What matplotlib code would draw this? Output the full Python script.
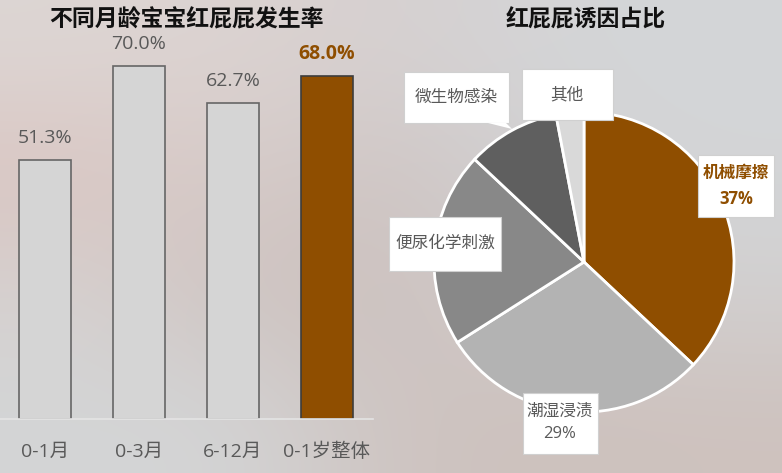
import numpy as np
import matplotlib.pyplot as plt
from matplotlib.patches import Rectangle, Polygon

plt.rcParams['font.family'] = ['Open Sans', 'Noto Sans CJK SC', 'DejaVu Sans']

# 数据
age_groups = ['0-1月', '0-3月', '6-12月', '0-1岁整体']
rates = [51.3, 70.0, 62.7, 68.0]

causes = ['机械摩擦', '潮湿浸渍', '便尿化学刺激', '微生物感染', '其他']
shares = [37, 29, 21, 10, 3]
show_pct = [True, True, False, False, False]

# 颜色
BROWN = '#8f4e00'
GRAY_TXT = '#595959'
bar_colors = ['#d5d5d5', '#d5d5d5', '#d5d5d5', BROWN]
pie_colors = [BROWN, '#b3b3b3', '#888888', '#5f5f5f', '#d9d9d9']

W, H = 782, 473
fig = plt.figure(figsize=(W / 100, H / 100), dpi=100)

# 背景（照片感的渐变）
bg_grid = np.array([
    [[221, 214, 212], [220, 211, 209], [214, 208, 208], [212, 213, 215], [212, 214, 216]],
    [[218, 196, 192], [214, 204, 202], [206, 196, 194], [210, 210, 212], [211, 213, 215]],
    [[214, 210, 209], [206, 194, 191], [204, 193, 190], [209, 205, 205], [210, 208, 208]],
    [[211, 213, 214], [212, 213, 214], [206, 196, 193], [205, 193, 189], [206, 194, 190]],
]) / 255.0
bg = fig.add_axes([0, 0, 1, 1])
bg.imshow(bg_grid, extent=[0, 1, 0, 1], aspect='auto', interpolation='bicubic')
bg.axis('off')

def px(x, y):
    return x / W, 1 - y / H

# 柱状图
ax = fig.add_axes([0, 54 / H, 373 / W, 399 / H])
ax.patch.set_alpha(0)
x = np.arange(len(age_groups))
ax.bar(x, rates, width=0.553, color=bar_colors,
       edgecolor=['#666666', '#666666', '#666666', '#3d3d3d'], linewidth=1.2)
ax.set_xlim(-0.479, 3.49)
ax.set_ylim(0, 399 / 5.04)
for i, v in enumerate(rates):
    last = i == len(rates) - 1
    ax.annotate(f'{v:.1f}%', (x[i], v), xytext=(0, 16), textcoords='offset points',
                ha='center', va='center', fontsize=14,
                color=BROWN if last else GRAY_TXT,
                fontweight='bold' if last else 'normal')
for s in ['left', 'right', 'top']:
    ax.spines[s].set_visible(False)
ax.spines['bottom'].set_color('#e4e4e4')
ax.spines['bottom'].set_linewidth(1.2)
ax.set_yticks([])
ax.set_xticks(x)
ax.set_xticklabels(age_groups, fontsize=14, color=GRAY_TXT)
ax.tick_params(axis='x', length=0, pad=17)

# 饼图
ax2 = fig.add_axes([(584 - 150) / W, (H - 262 - 150) / H, 300 / W, 300 / H])
ax2.pie(shares, colors=pie_colors, startangle=90, counterclock=False,
        wedgeprops=dict(edgecolor='white', linewidth=2))
ax2.set_xlim(-1, 1)
ax2.set_ylim(-1, 1)
ax2.set_aspect('auto')

# 标签框 (中心 x, 中心 y, 宽, 高)，像素
label_boxes = [(736, 186, 76, 62), (560, 423, 75, 61), (445, 244, 112, 53),
               (456, 98, 105, 51), (567, 95, 91, 51)]
for name, pct, flag, col, (cx, cy, bw, bh) in zip(causes, shares, show_pct,
                                                  pie_colors, label_boxes):
    x0, y0 = px(cx - bw / 2, cy + bh / 2)
    fig.add_artist(Rectangle((x0, y0), bw / W, bh / H, transform=fig.transFigure,
                             facecolor='white', edgecolor='#d0d0d0', linewidth=0.8,
                             zorder=5))
    txt = f'{name}\n{pct}%' if flag else name
    bold = col == BROWN
    fx, fy = px(cx, cy)
    fig.text(fx, fy, txt, ha='center', va='center', fontsize=12,
             linespacing=1.55, color=BROWN if bold else GRAY_TXT,
             fontweight='bold' if bold else 'normal', zorder=6)

# 微生物感染 的小尖角
tail = [px(488, 123), px(506, 123), px(512, 129)]
fig.add_artist(Polygon(tail, closed=True, transform=fig.transFigure,
                       facecolor='white', edgecolor='none', zorder=5))

# 标题
fig.text(*px(186, 20), '不同月龄宝宝红屁屁发生率', ha='center', va='center',
         fontsize=16.5, fontweight='bold', color='#111111')
fig.text(*px(586, 20), '红屁屁诱因占比', ha='center', va='center',
         fontsize=16.5, fontweight='bold', color='#111111')

fig.savefig('out.png', dpi=100)
